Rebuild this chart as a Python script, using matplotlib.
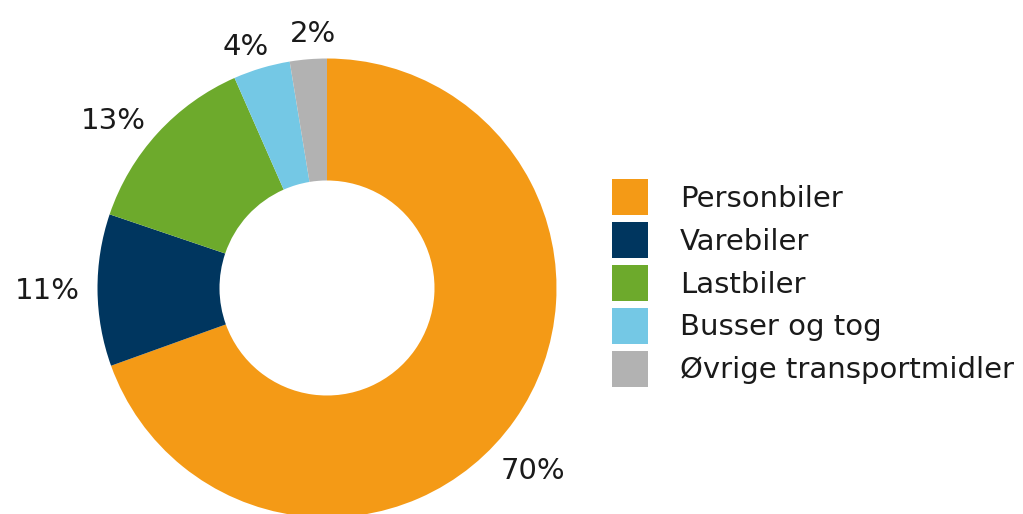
import numpy as np
import matplotlib
matplotlib.use('Agg')
import matplotlib.pyplot as plt

# data
categories = ['Personbiler', 'Varebiler', 'Lastbiler', 'Busser og tog', 'Øvrige transportmidler']
shares = [69.5, 10.7, 13.2, 4.0, 2.6]
share_labels = ['70%', '11%', '13%', '4%', '2%']
colors = ['#F49A16', '#00365F', '#6DAA2C', '#74C8E5', '#B2B2B2']

# label placement (radius factor, angle shift in degrees)
label_dist = [1.20, 1.22, 1.18, 1.11, 1.11]
label_shift = [-6.5, 0, 4.5, 2, -1.5]

W, H = 1023, 514
fig = plt.figure(figsize=(W / 100, H / 100), dpi=100, facecolor='white')
ax = fig.add_axes([0, 0, 1, 1])

cx, cy, R = 327, H - 288, 229.5
wedges, _ = ax.pie(shares, colors=colors, startangle=90, counterclock=False,
                   center=(cx, cy), radius=R,
                   wedgeprops=dict(width=122, linewidth=0))
ax.set_xlim(0, W)
ax.set_ylim(0, H)
ax.set_aspect('equal')
ax.axis('off')

for w, lab, d, s in zip(wedges, share_labels, label_dist, label_shift):
    ang = np.deg2rad((w.theta1 + w.theta2) / 2 + s)
    ax.text(cx + R * d * np.cos(ang), cy + R * d * np.sin(ang), lab,
            ha='center', va='center', fontsize=21, color='#1a1a1a')

leg = ax.legend(wedges, categories, loc='upper left',
                bbox_to_anchor=(612 / W, 1 - 179 / H), bbox_transform=fig.transFigure,
                frameon=False, fontsize=21, borderpad=0, borderaxespad=0,
                handlelength=1.24, handleheight=1.52, handletextpad=1.1,
                labelspacing=0.24)
for t in leg.get_texts():
    t.set_color('#1a1a1a')

fig.savefig('out.png', dpi=100, facecolor='white')
